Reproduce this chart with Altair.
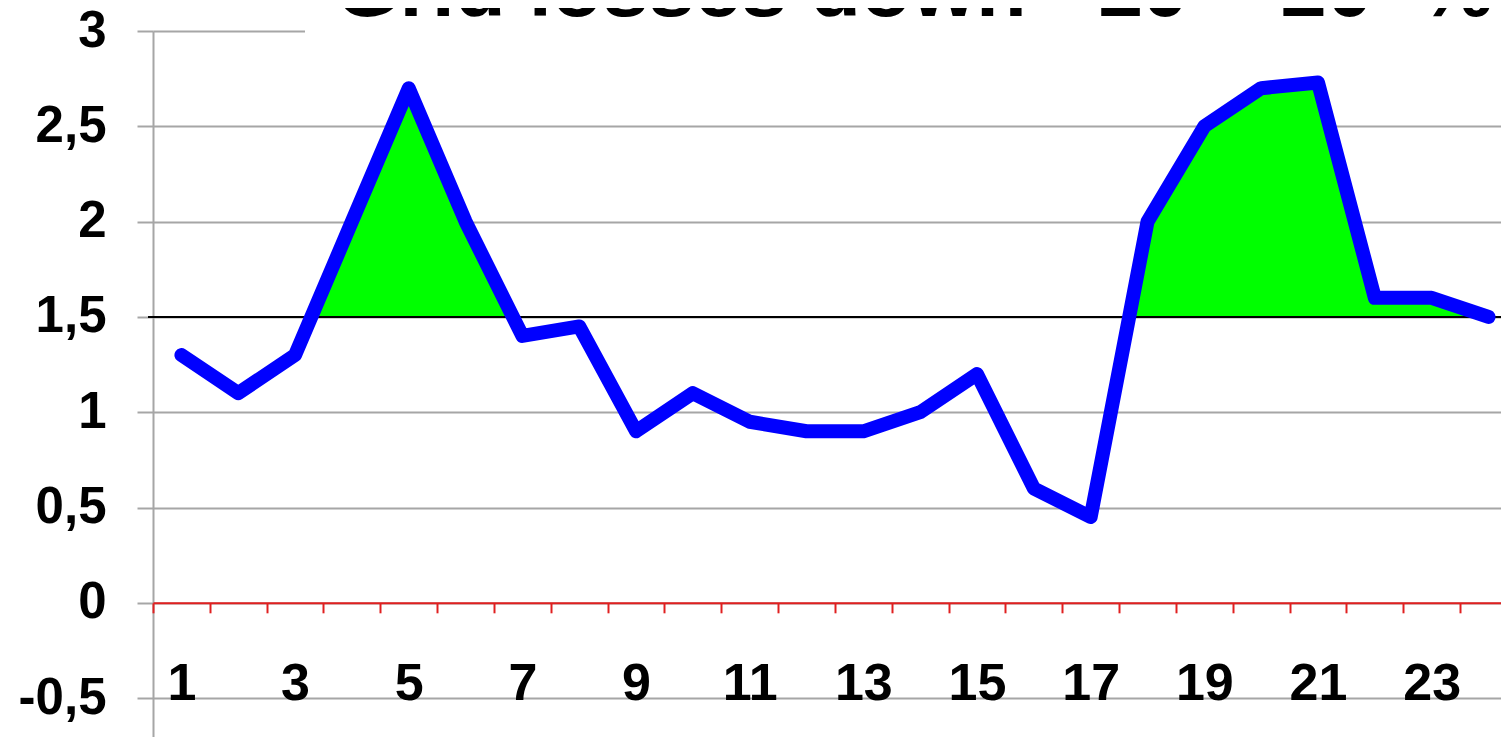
import altair as alt
import pandas as pd

# ---- data ----
HOURS = list(range(1, 25))
VALUES = [1.3, 1.1, 1.3, 2.0, 2.7, 2.0, 1.4, 1.45, 0.9, 1.1, 0.95, 0.9,
          0.9, 1.0, 1.2, 0.6, 0.45, 2.0, 2.5, 2.7, 2.73, 1.6, 1.6, 1.5]
THRESHOLD = 1.5
Y_TICKS = [-0.5, 0, 0.5, 1, 1.5, 2, 2.5, 3]
X_LABELS = [1, 3, 5, 7, 9, 11, 13, 15, 17, 19, 21, 23]
X_TICK_MARKS = [h - 0.5 for h in HOURS]
TITLE = "Grid losses down \u00a0\u00a010 \u2013 20 \u00a0%"

# ---- layout ----
PLOT_W, PLOT_H = 1348, 706
Y_MIN, Y_MAX = -0.704, 3.0
X_MIN, X_MAX = 0.5, 24.22
PX_PER_UNIT = PLOT_H / (Y_MAX - Y_MIN)
X_AXIS_OFFSET = -(PLOT_H - Y_MAX * PX_PER_UNIT)

FONT = "Liberation Sans"

line_df = pd.DataFrame({"hour": HOURS, "value": VALUES})

# area above threshold, split into segments at the crossing points
rows = []
seg = 0
inside = False
for i, (h, v) in enumerate(zip(HOURS, VALUES)):
    if i > 0:
        h0, v0 = HOURS[i - 1], VALUES[i - 1]
        if (v0 - THRESHOLD) * (v - THRESHOLD) < 0:
            xc = h0 + (THRESHOLD - v0) / (v - v0) * (h - h0)
            if not inside:
                seg += 1
            rows.append({"hour": xc, "value": THRESHOLD, "base": THRESHOLD, "seg": seg})
            inside = not inside
            if not inside:
                continue
    if v >= THRESHOLD:
        if not inside:
            seg += 1
            inside = True
        rows.append({"hour": h, "value": v, "base": THRESHOLD, "seg": seg})
    else:
        inside = False
area_df = pd.DataFrame(rows)

x_scale = alt.Scale(domain=[X_MIN, X_MAX], nice=False, zero=False)
y_scale = alt.Scale(domain=[Y_MIN, Y_MAX], nice=False, zero=False)

x_values = sorted(X_TICK_MARKS + X_LABELS)
x_label_list = ",".join(str(v) for v in X_LABELS)

x_axis = alt.Axis(
    values=x_values,
    tickCount=len(x_values),
    title=None,
    grid=False,
    offset=X_AXIS_OFFSET,
    domainColor="#e02020",
    domainWidth=2,
    tickColor="#e02020",
    tickWidth=2,
    tickSize=10,
    tickOpacity={"condition": {"test": "datum.value % 1 === 0", "value": 0}, "value": 1},
    labelExpr="indexof([" + x_label_list + "], datum.value) >= 0 ? format(datum.value, 'd') : ''",
    labelFont=FONT,
    labelFontSize=52,
    labelFontWeight="bold",
    labelColor="black",
    labelBaseline="alphabetic",
    labelPadding=87,
    labelOverlap=False,
    labelFlush=False,
    zindex=1,
)

y_axis = alt.Axis(
    values=Y_TICKS,
    tickCount=len(Y_TICKS),
    title=None,
    grid=True,
    gridColor="#a6a6a6",
    gridWidth=2,
    domainColor="#a6a6a6",
    domainWidth=2,
    tickColor="#a6a6a6",
    tickWidth=2,
    tickSize=16,
    labelExpr="replace(replace(format(datum.value, '.1~f'), '.', ','), '\u2212', '-')",
    labelFont=FONT,
    labelFontSize=51,
    labelFontWeight="bold",
    labelColor="black",
    labelPadding=31,
    labelOverlap=False,
    labelFlush=False,
)

title_box = alt.Chart(line_df).mark_rect(color="white").encode(
    x=alt.value(152), x2=alt.value(PLOT_W), y=alt.value(-30), y2=alt.value(12)
)

area = alt.Chart(area_df).mark_area(color="#00ff00", opacity=1).encode(
    x=alt.X("hour:Q", scale=x_scale, axis=x_axis),
    y=alt.Y("value:Q", scale=y_scale, axis=y_axis),
    y2="base:Q",
    detail="seg:N",
)

threshold_rule = alt.Chart(pd.DataFrame({"t": [THRESHOLD]})).mark_rule(
    color="black", strokeWidth=2
).encode(
    y=alt.Y("t:Q", scale=y_scale),
    x=alt.value(-5),
    x2=alt.value(PLOT_W),
)

line = alt.Chart(line_df).mark_line(
    color="#0000ff", strokeWidth=14, strokeJoin="round", strokeCap="round"
).encode(
    x=alt.X("hour:Q", scale=x_scale),
    y=alt.Y("value:Q", scale=y_scale),
)

title_text = alt.Chart(pd.DataFrame({"t": [TITLE]})).mark_text(
    font=FONT, fontSize=83, fontWeight="bold", color="black",
    align="left", baseline="alphabetic",
).encode(
    text="t:N",
    x=alt.value(182),
    y=alt.value(-15),
)

chart = alt.layer(title_box, area, threshold_rule, line, title_text).properties(
    width=PLOT_W,
    height=PLOT_H,
    autosize=alt.AutoSizeParams(type="none"),
    padding={"left": 145, "top": 23, "right": 0, "bottom": 0},
    background="white",
).configure_view(stroke=None)

chart.save("out.html", embed_options={"renderer": "svg", "actions": False})
